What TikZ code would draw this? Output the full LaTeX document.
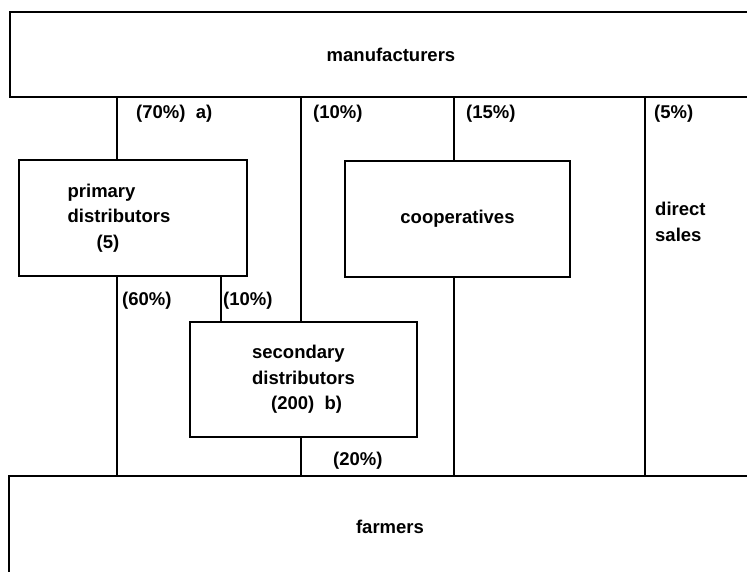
\documentclass[tikz,border=0pt]{standalone}
\usepackage{fontspec}
\setmainfont{Liberation Sans}
\usetikzlibrary{positioning}

\begin{document}
\begin{tikzpicture}[x=1pt, y=-1pt,
    box/.style={rectangle, draw=black, line width=1.3pt, align=center, inner sep=0pt,
        font=\bfseries\fontsize{18.5}{25.5}\selectfont},
    lbl/.style={anchor=west, inner sep=0pt, align=left,
        font=\bfseries\fontsize{18.5}{25.5}\selectfont},
    flow/.style={line width=1.3pt}]
\useasboundingbox (0,0) rectangle (747,571);
\node[box, minimum width=762pt, minimum height=85pt] (manuf) at (391,54.5) {manufacturers};
\node[box, minimum width=762pt, minimum height=102pt] (farm) at (390,527) {farmers};
\node[box, align=left, minimum width=228pt, minimum height=116pt] (prim) at (133,218)
    {primary\\distributors\makebox[28pt]{}\\\hspace*{29pt}(5)};
\node[box, minimum width=225pt, minimum height=116pt] (coop) at (457.5,219) {cooperatives};
\node[box, align=left, minimum width=227pt, minimum height=115pt] (sec) at (303.5,379.5)
    {secondary\\distributors\\\hspace*{19pt}(200)\ \ b)};
\coordinate (ca) at (117,0);
\coordinate (cb) at (301,0);
\coordinate (cs) at (221,0);
\coordinate (cc) at (454,0);
\coordinate (cd) at (645,0);
\draw[flow] (manuf.south -| ca) -- (prim.north -| ca);
\draw[flow] (prim.south -| ca) -- (farm.north -| ca);
\draw[flow] (manuf.south -| cb) -- (sec.north -| cb);
\draw[flow] (sec.south -| cb) -- (farm.north -| cb);
\draw[flow] (prim.south -| cs) -- (sec.north -| cs);
\draw[flow] (manuf.south -| cc) -- (coop.north -| cc);
\draw[flow] (coop.south -| cc) -- (farm.north -| cc);
\draw[flow] (manuf.south -| cd) -- (farm.north -| cd);
\node[lbl] (p70) at (136,114) {(70\%)\ \ a)};
\node[lbl] (p10a) at (313,114) {(10\%)};
\node[lbl] (p15) at (466,114) {(15\%)};
\node[lbl] (p5) at (654,114) {(5\%)};
\node[lbl] (direct) at (655,222) {direct\\sales};
\node[lbl] (p60) at (122,301) {(60\%)};
\node[lbl] (p10b) at (223,301) {(10\%)};
\node[lbl] (p20) at (333,461) {(20\%)};
\end{tikzpicture}
\end{document}
